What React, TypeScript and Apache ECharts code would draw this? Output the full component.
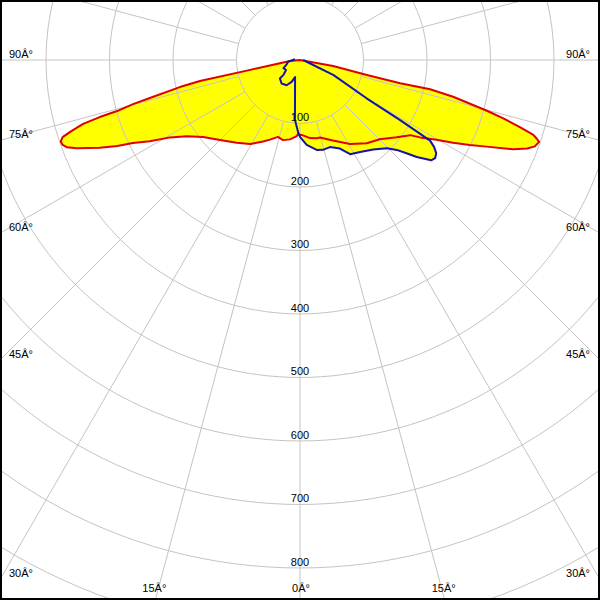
import React, { useEffect, useRef } from "react";
import * as echarts from "echarts";

// ---- data (gamma angle from nadir in degrees, negative = left; luminous intensity in cd) ----
const radiusTicks = [100, 200, 300, 400, 500, 600, 700, 800];
const sideAngleLabels = [90, 75, 60, 45, 30];
const bottomAngleLabels = [-15, 0, 15];

const redGamma = [
  -90, -84.3, -80.9, -78.8, -78.1, -77.3, -75.8, -75.2, -74.4, -74.1, -73.6, -72.6, -72.0, -71.2,
  -70.3, -69.5, -68.4, -66.3, -64.8, -63.6, -61.6, -59.2, -56.1, -51.5, -45.0, -37.4, -30.7,
  -24.4, -20.7, -16.0, -12.0, -7.2, -2.5, -1.3, 0, 1.3, 7.3, 12.0, 14.5, 22.2, 30.8, 38.7, 45.2,
  51.4, 55.7, 57.2, 59.7, 61.6, 63.4, 65.1, 67.3, 68.7, 69.8, 71.1, 71.6, 72.2, 73.0, 74.0, 74.8,
  76.5, 77.3, 76.9, 77.3, 79.7, 90,
];
const redCd = [
  0, 16, 32, 80, 161, 194, 244, 272, 299, 328, 356, 380, 393, 398,
  397, 392, 378, 344, 318, 294, 269, 238, 215, 195, 178, 164, 154,
  141, 134, 126, 129, 126, 120, 116, 118, 118, 124, 126, 126, 137, 154, 168, 177,
  195, 210, 225, 249, 274, 299, 324, 364, 384, 394, 398, 393, 386, 362, 333, 305,
  248, 210, 162, 108, 53, 0,
];

const blueGamma = [
  -98, -81.7, -70.3, -63.6, -54.5, -48.0, -47.5, -38.1, -28.0, -20.9, -16.1, -4.8, -1.3, 0,
  4.5, 10.5, 14.3, 19.0, 24.3, 28.0, 33.2, 39.3, 44.6, 47.1, 48.9, 50.3, 52.6, 54.0, 55.6, 57.0,
  58.2, 59.0, 60.1, 65.8, 90,
];
const blueCd = [
  8, 19, 23, 29, 27, 35, 43, 47, 45, 37, 28, 95, 115, 121,
  134, 144, 146, 145, 153, 168, 173, 182, 195, 208, 224, 239, 260, 263, 260, 252,
  241, 184, 121, 58, 5,
];

const CX = 300;
const CY = 60;
const PX_PER_CD = 0.635;
const R_MAX = 1100;

const GRID = "#c4c4c4";
const FONT_FAMILY = '"Liberation Sans", Arial, sans-serif';
const FONT = `11px ${FONT_FAMILY}`;

const deg = (a: number) => `${Math.abs(a)}Â°`;

export default function App() {
  const ref = useRef<HTMLDivElement>(null);

  useEffect(() => {
    if (!ref.current) return;
    const chart = echarts.init(ref.current, undefined, { renderer: "svg" });

    const toPolar = (g: number[], v: number[]) => g.map((a, i) => [v[i], a]);

    const graphics: any[] = [];
    // radial intensity labels, sitting on each circle along the nadir line
    radiusTicks.forEach((v) => {
      graphics.push({
        type: "text",
        z: 20,
        style: {
          text: String(v),
          x: CX,
          y: CY + v * PX_PER_CD - 1,
          font: FONT,
          fill: "#000000",
          align: "center",
          verticalAlign: "bottom",
        },
      });
    });
    // side angle labels, placed where each radial line leaves the frame
    sideAngleLabels.forEach((a) => {
      const rad = (a * Math.PI) / 180;
      const yExit = a === 90 ? CY : CY + (CX * Math.cos(rad)) / Math.sin(rad);
      const y = Math.min(yExit, 580) - 6.5;
      graphics.push({
        type: "text",
        z: 20,
        style: { text: deg(a), x: 9, y, font: FONT, fill: "#000", align: "left", verticalAlign: "middle" },
      });
      graphics.push({
        type: "text",
        z: 20,
        style: { text: deg(a), x: 590, y, font: FONT, fill: "#000", align: "right", verticalAlign: "middle" },
      });
    });
    bottomAngleLabels.forEach((a) => {
      const rad = (a * Math.PI) / 180;
      const x = CX + (600 - CY) * Math.tan(rad) + (a === 0 ? 1 : -1);
      graphics.push({
        type: "text",
        z: 20,
        style: { text: deg(a), x, y: 588, font: FONT, fill: "#000", align: "center", verticalAlign: "middle" },
      });
    });
    graphics.push({
      type: "rect",
      z: 30,
      shape: { x: 1, y: 1, width: 598, height: 598 },
      style: { fill: "none", stroke: "#000", lineWidth: 2 },
    });

    chart.setOption({
      animation: false,
      backgroundColor: "#fff",
      polar: [
        { center: [CX, CY], radius: [0, R_MAX * PX_PER_CD] },
        { center: [CX, CY], radius: [100 * PX_PER_CD, R_MAX * PX_PER_CD] },
      ],
      angleAxis: [
        { polarIndex: 0, type: "value", min: -180, max: 180, startAngle: 90, clockwise: false, show: false },
        {
          polarIndex: 1,
          type: "value",
          min: 0,
          max: 360,
          interval: 15,
          startAngle: 270,
          clockwise: false,
          z: 2,
          axisLine: { show: false },
          axisTick: { show: false },
          axisLabel: { show: false },
          splitLine: { show: true, lineStyle: { color: GRID, width: 1 } },
        },
      ],
      radiusAxis: [
        { polarIndex: 0, type: "value", min: 0, max: R_MAX, show: false },
        {
          polarIndex: 1,
          type: "value",
          min: 100,
          max: R_MAX,
          interval: 100,
          z: 2,
          axisLine: { show: false },
          axisTick: { show: false },
          axisLabel: { show: false },
          splitLine: { show: true, lineStyle: { color: GRID, width: 1 } },
        },
      ],
      graphic: graphics,
      series: [
        {
          type: "line",
          coordinateSystem: "polar",
          polarIndex: 0,
          data: toPolar(redGamma, redCd),
          symbol: "none",
          silent: true,
          z: 1,
          lineStyle: { width: 0, opacity: 0 },
          areaStyle: { color: "#ffff00", opacity: 1 },
        },
        {
          type: "line",
          coordinateSystem: "polar",
          polarIndex: 0,
          data: toPolar(blueGamma, blueCd),
          symbol: "none",
          silent: true,
          z: 1,
          lineStyle: { width: 0, opacity: 0 },
          areaStyle: { color: "#ffff00", opacity: 1 },
        },
        {
          type: "line",
          coordinateSystem: "polar",
          polarIndex: 0,
          data: toPolar(redGamma, redCd),
          symbol: "none",
          silent: true,
          z: 3,
          lineStyle: { width: 2, color: "#e00000", join: "round" },
        },
        {
          type: "line",
          coordinateSystem: "polar",
          polarIndex: 0,
          data: toPolar(blueGamma, blueCd),
          symbol: "none",
          silent: true,
          z: 3,
          lineStyle: { width: 2, color: "#1414a8", join: "round" },
        },
      ],
    });

    return () => chart.dispose();
  }, []);

  return <div ref={ref} style={{ position: "absolute", left: 0, top: 0, width: 600, height: 600 }} />;
}
